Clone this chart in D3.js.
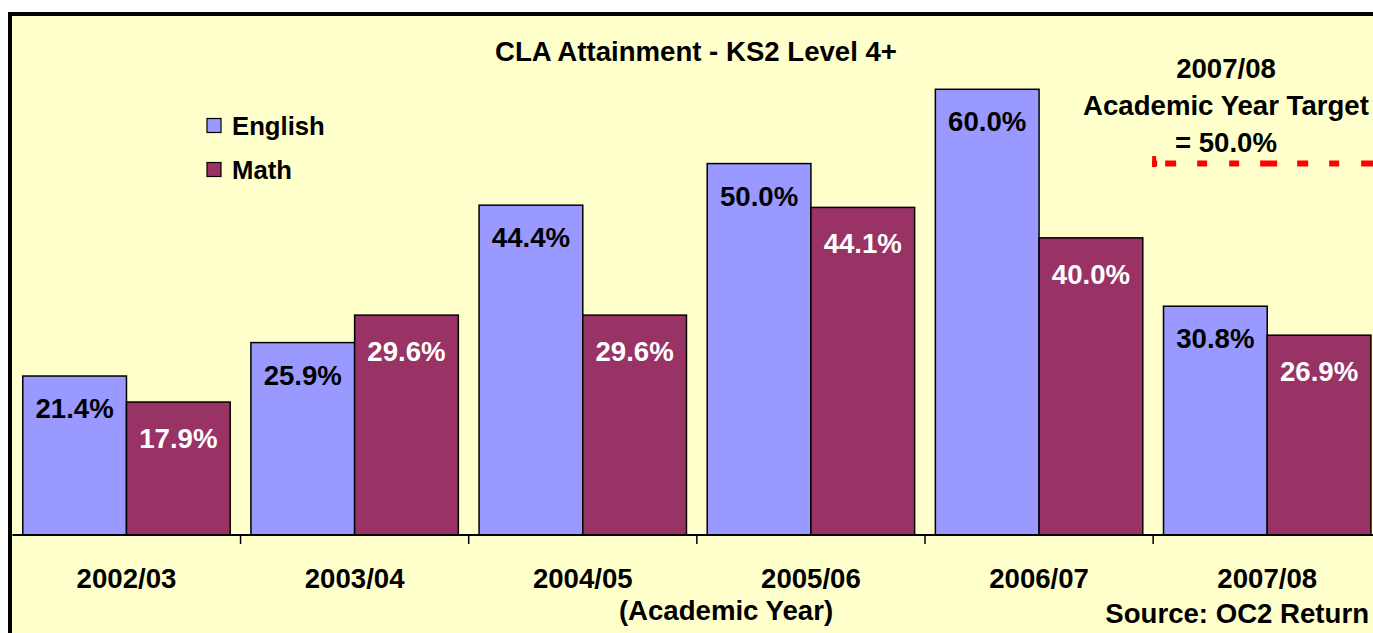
<!DOCTYPE html>
<html>
<head>
<meta charset="utf-8">
<script src="https://cdn.jsdelivr.net/npm/d3@7"></script>
<style>
    body { margin: 0; background: #fff; }
    text { font-family: "Liberation Sans", Arial, sans-serif; font-weight: bold; }
</style>
</head>
<body>
<div id="chart"></div>
<script>
// values
var years = ['2002/03','2003/04','2004/05','2005/06','2006/07','2007/08'];
var seriesNames = ['English','Math'];
var english = [21.4, 25.9, 44.4, 50.0, 60.0, 30.8];
var math = [17.9, 29.6, 29.6, 44.1, 40.0, 26.9];
var targetYear = '2007/08';
var targetValue = 50.0;
var targetLines = ['2007/08','Academic Year Target','= 50.0%'];

var colors = { English: '#9999ff', Math: '#993366' };
var labelColors = { English: '#000', Math: '#fff' };
var labelOffset = { English: 42, Math: 46 };

var width = 1373, height = 633;
var plotLeft = 12.4, plotRight = 1381.3, plotTop = 15, plotBottom = 535;
var fs = 27.6;

var svg = d3.select('#chart')
    .append('svg')
    .attr('width', width)
    .attr('height', height);

// yellow panel with thick black frame (cut off right and bottom)
svg.append('rect')
    .attr('x', 10).attr('y', 14)
    .attr('width', width + 20).attr('height', height + 20)
    .attr('fill', '#ffffcc')
    .attr('stroke', '#000')
    .attr('stroke-width', 4);

var x0 = d3.scaleBand().domain(years).range([plotLeft, plotRight]).padding(0);
var x1 = d3.scaleBand().domain(seriesNames).range([0, x0.bandwidth()])
    .paddingInner(0).paddingOuter(0.1);
var y = d3.scaleLinear().domain([0, 70]).range([plotBottom, plotTop]);

var rows = years.map(function(yr, i) {
    return { year: yr, values: [
        { key: 'English', value: english[i] },
        { key: 'Math', value: math[i] }
    ]};
});

var groups = svg.append('g').selectAll('g')
    .data(rows)
    .enter().append('g')
    .attr('transform', function(d) { return 'translate(' + x0(d.year) + ',0)'; });

groups.selectAll('rect')
    .data(function(d) { return d.values; })
    .enter().append('rect')
    .attr('x', function(d) { return x1(d.key); })
    .attr('y', function(d) { return y(d.value); })
    .attr('width', x1.bandwidth())
    .attr('height', function(d) { return y(0) - y(d.value); })
    .attr('fill', function(d) { return colors[d.key]; })
    .attr('stroke', '#000')
    .attr('stroke-width', 1.5);

groups.selectAll('text.val')
    .data(function(d) { return d.values; })
    .enter().append('text')
    .attr('class', 'val')
    .attr('x', function(d) { return x1(d.key) + x1.bandwidth() / 2; })
    .attr('y', function(d) { return y(d.value) + labelOffset[d.key]; })
    .attr('text-anchor', 'middle')
    .attr('font-size', fs)
    .attr('fill', function(d) { return labelColors[d.key]; })
    .text(function(d) { return d.value.toFixed(1) + '%'; });

// category labels
var axis = d3.axisBottom(x0).tickSize(0).tickPadding(33);
var axisG = svg.append('g')
    .attr('transform', 'translate(0,' + plotBottom + ')')
    .call(axis);
axisG.select('.domain').remove();
axisG.selectAll('text')
    .attr('font-size', fs)
    .attr('font-family', '"Liberation Sans", Arial, sans-serif')
    .attr('fill', '#000');

// axis line + ticks at category boundaries
svg.append('line')
    .attr('x1', plotLeft).attr('x2', width)
    .attr('y1', plotBottom).attr('y2', plotBottom)
    .attr('stroke', '#000').attr('stroke-width', 2);
svg.append('g').selectAll('line')
    .data(years.slice(1))
    .enter().append('line')
    .attr('x1', function(d) { return x0(d); })
    .attr('x2', function(d) { return x0(d); })
    .attr('y1', plotBottom).attr('y2', plotBottom + 9)
    .attr('stroke', '#000').attr('stroke-width', 1.5);

// target line
var tx = x0(targetYear) - 1;
svg.append('rect')
    .attr('x', tx).attr('y', y(targetValue) - 7.5)
    .attr('width', 4).attr('height', 11)
    .attr('fill', '#ff0000');
svg.append('line')
    .attr('x1', tx).attr('x2', width)
    .attr('y1', y(targetValue)).attr('y2', y(targetValue))
    .attr('stroke', '#ff0000')
    .attr('stroke-width', 6)
    .attr('stroke-dasharray', '5,8,11,21,10,22,10,21,17,20,11,21,10,22,14');

svg.append('g').selectAll('text')
    .data(targetLines)
    .enter().append('text')
    .attr('x', 1226)
    .attr('y', function(d, i) { return 78 + i * 37; })
    .attr('text-anchor', 'middle')
    .attr('font-size', fs)
    .text(function(d) { return d; });

// title
svg.append('text')
    .attr('x', 696).attr('y', 61)
    .attr('text-anchor', 'middle')
    .attr('font-size', fs)
    .text('CLA Attainment - KS2 Level 4+');

// legend
var legend = svg.append('g').selectAll('g')
    .data(seriesNames)
    .enter().append('g')
    .attr('transform', function(d, i) { return 'translate(207,' + (118.5 + i * 44) + ')'; });
legend.append('rect')
    .attr('width', 14).attr('height', 14)
    .attr('fill', function(d) { return colors[d]; })
    .attr('stroke', '#000').attr('stroke-width', 1.2);
legend.append('text')
    .attr('x', 25).attr('y', 16)
    .attr('font-size', 25.7)
    .text(function(d) { return d; });

// footer texts
svg.append('text')
    .attr('x', 726).attr('y', 620)
    .attr('text-anchor', 'middle')
    .attr('font-size', fs)
    .text('(Academic Year)');
svg.append('text')
    .attr('x', 1369).attr('y', 623)
    .attr('text-anchor', 'end')
    .attr('font-size', fs)
    .text('Source: OC2 Return');
</script>
</body>
</html>
